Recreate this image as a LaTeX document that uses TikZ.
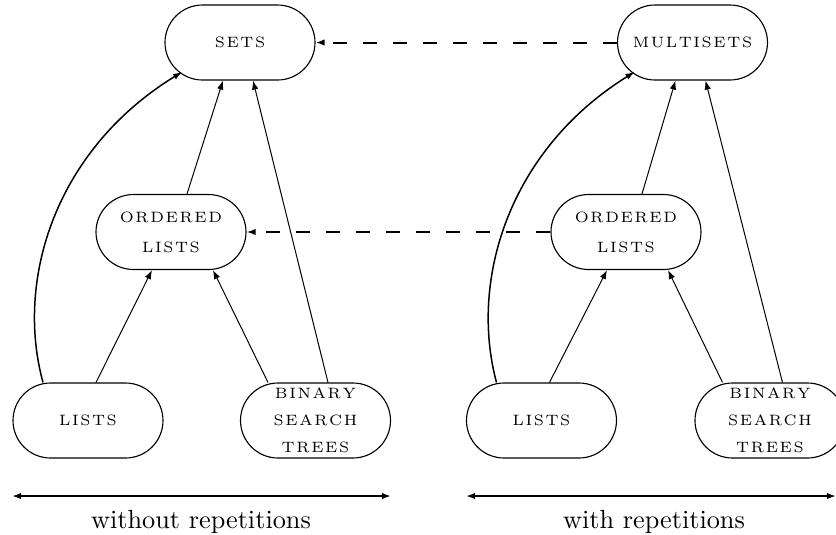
\documentclass[tikz,border=0pt]{standalone}
\usepackage{fontspec}
\usetikzlibrary{arrows.meta}
\makeatletter
\def\spaced#1{\spaced@first#1\relax}
\def\spaced@first#1{#1\spaced@aux}
\def\spaced@aux#1{\ifx#1\relax\else\kern0.65pt#1\expandafter\spaced@aux\fi}
\makeatother
\tikzset{
  stadium/.style={draw, line width=0.45pt, rounded corners=15pt, minimum width=60pt,
    minimum height=30pt, inner sep=0pt, align=center, font=\fontsize{6}{12}\selectfont},
  bstfont/.style={font=\fontsize{6}{10.8}\selectfont},
  tip/.style={-{Latex[length=3.6pt,width=2.6pt]}},
  link/.style={tip, line width=0.4pt},
  curvelink/.style={tip, line width=0.6pt},
  dashlink/.style={tip, line width=0.8pt, dash pattern=on 5.6pt off 6.4pt},
  span/.style={{Latex[length=3.6pt,width=2.6pt]}-{Latex[length=3.6pt,width=2.6pt]}, line width=0.8pt},
  caption/.style={font=\fontsize{10.5}{12}\selectfont, anchor=base}
}
\begin{document}
\begin{tikzpicture}[x=0.4pt,y=-0.4pt]
\useasboundingbox (0,0) rectangle (836,535);
% left group
\node[stadium] (sets) at (240,42.5) {\spaced{SETS}};
\node[stadium] (ordL) at (171,232) {\spaced{ORDERED}\\\spaced{LISTS}};
\node[stadium] (listsL) at (88,420.5) {\spaced{LISTS}};
\node[stadium, bstfont] (bstL) at (315.5,420.5) {\spaced{BINARY}\\\spaced{SEARCH}\\\spaced{TREES}};
% right group
\node[stadium] (multi) at (692.5,42.5) {\spaced{MULTISETS}};
\node[stadium] (ordR) at (626,232) {\spaced{ORDERED}\\\spaced{LISTS}};
\node[stadium] (listsR) at (541.5,420.5) {\spaced{LISTS}};
\node[stadium, bstfont] (bstR) at (770,420.5) {\spaced{BINARY}\\\spaced{SEARCH}\\\spaced{TREES}};
% left connectors
\draw[curvelink] ([shift={(-45,0)}]listsL.north) .. controls (15,280) and (55,150) .. ([shift={(-58,29.5)}]sets.center);
\draw[link] ([shift={(8,0)}]listsL.north) -- ([shift={(-19,0)}]ordL.south);
\draw[link] ([shift={(-47.5,0)}]bstL.north) -- ([shift={(42,0)}]ordL.south);
\draw[link] ([shift={(12.5,0)}]bstL.north) -- ([shift={(13,0)}]sets.south);
\draw[link] ([shift={(16,0)}]ordL.north) -- ([shift={(-17,0)}]sets.south);
% right connectors
\draw[curvelink] ([shift={(-45,0)}]listsR.north) .. controls (469,280) and (509,150) .. ([shift={(-58,29.5)}]multi.center);
\draw[link] ([shift={(8,0)}]listsR.north) -- ([shift={(-19,0)}]ordR.south);
\draw[link] ([shift={(-47.5,0)}]bstR.north) -- ([shift={(42,0)}]ordR.south);
\draw[link] ([shift={(12.5,0)}]bstR.north) -- ([shift={(13,0)}]multi.south);
\draw[link] ([shift={(16,0)}]ordR.north) -- ([shift={(-17,0)}]multi.south);
% dashed links
\draw[dashlink] (multi.west) -- (sets.east);
\draw[dashlink] (ordR.west) -- (ordL.east);
% spans
\coordinate (aL) at (12,496);
\coordinate (bL) at (391,496);
\coordinate (aR) at (466,496);
\coordinate (bR) at (836,496);
\draw[span] (aL) -- (bL);
\draw[span] (aR) -- (bR);
\node[caption] (capL) at (201,528) {without repetitions};
\node[caption] (capR) at (654,528) {with repetitions};
\end{tikzpicture}
\end{document}
